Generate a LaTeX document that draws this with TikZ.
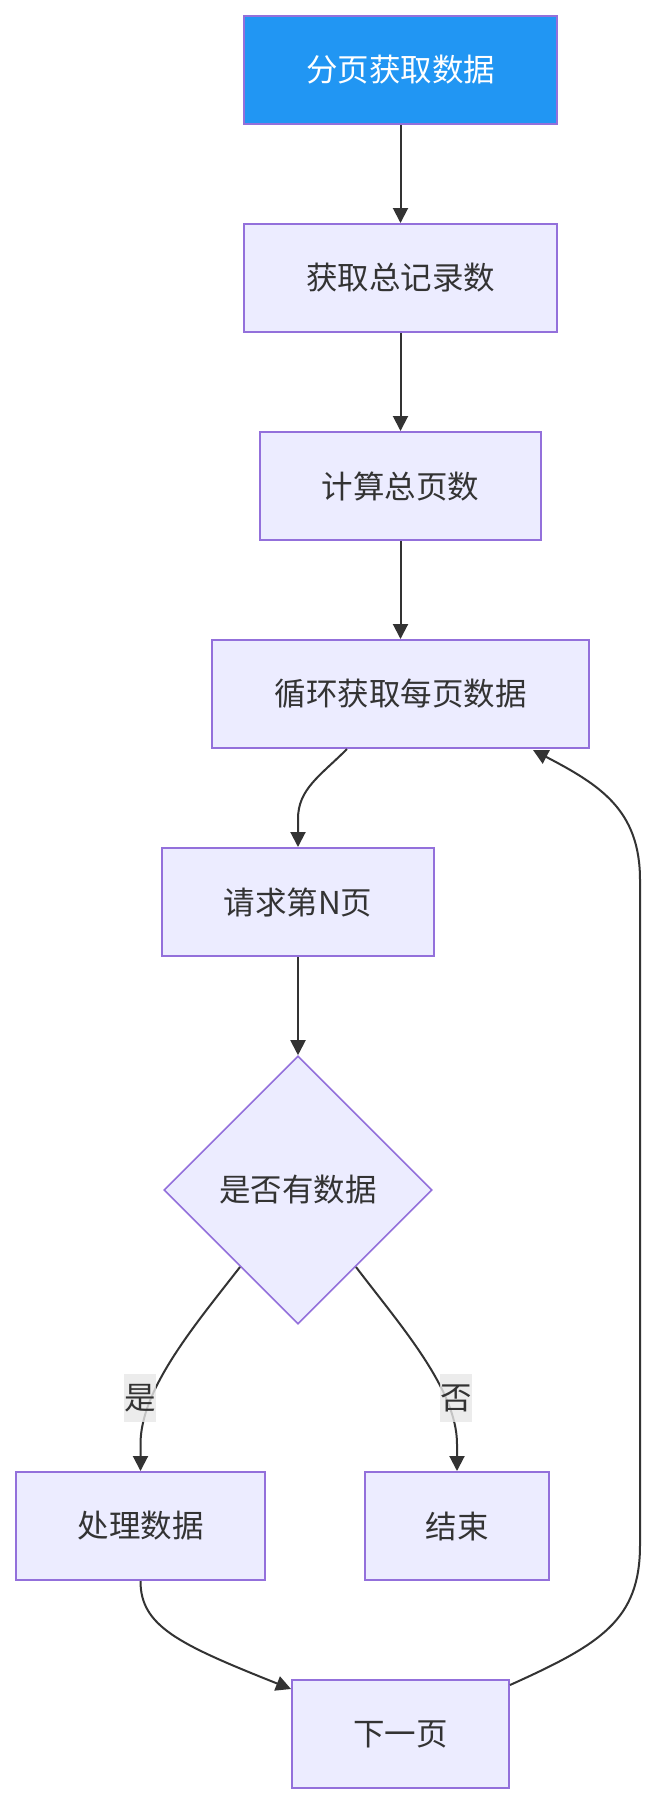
\documentclass[tikz,border=0pt]{standalone}
\usepackage{fontspec}
\setmainfont{Noto Sans CJK SC}
\usetikzlibrary{shapes.geometric,arrows.meta,calc}
\definecolor{nodefill}{HTML}{ECECFF}
\definecolor{nodeborder}{HTML}{9370DB}
\definecolor{edgecol}{HTML}{333333}
\definecolor{txtcol}{HTML}{333333}
\definecolor{startblue}{HTML}{2196F3}
\definecolor{labelbg}{HTML}{E8E8E8}
\begin{document}
\begin{tikzpicture}[x=1pt,y=-1pt,
  box/.style={draw=nodeborder, fill=nodefill, line width=2pt, minimum height=108pt, inner sep=0pt, text=txtcol, font=\fontsize{31.5pt}{38pt}\selectfont},
  startbox/.style={box, fill=startblue, text=white},
  decision/.style={box, diamond, minimum width=268pt, minimum height=268pt, line width=1.6pt},
  flow/.style={draw=edgecol, line width=2pt, -{Triangle[length=15pt,width=15pt]}},
  elabel/.style={fill=labelbg, fill opacity=0.8, text opacity=1, minimum width=32pt, minimum height=48pt, inner sep=0pt, text=txtcol, font=\fontsize{31.5pt}{38pt}\selectfont}
]
\useasboundingbox (0,0) rectangle (655,1804);
\fill[white] (0,0) rectangle (655,1804);

\node[startbox, minimum width=313pt] (n1) at (400.5,70) {分页获取数据};
\node[box, minimum width=313pt] (n2) at (400.5,278) {获取总记录数};
\node[box, minimum width=281pt] (n3) at (400.5,486) {计算总页数};
\node[box, minimum width=377pt] (n4) at (400.5,694) {循环获取每页数据};
\node[box, minimum width=272pt] (n5) at (298,902) {请求第N页};
\node[decision] (d) at (298,1190) {是否有数据};
\node[box, minimum width=249pt] (n7) at (140.5,1526) {处理数据};
\node[box, minimum width=184pt] (n8) at (457,1526) {结束};
\node[box, minimum width=217pt] (n9) at (400.5,1734) {下一页};

\coordinate (a1) at ($(n4.south)+(-53.5,0)$);
\coordinate (a2) at ($(n5.north)+(0,-28)$);
\coordinate (dl) at ($(d.center)+(-58,77)$);
\coordinate (dr) at ($(d.center)+(58,77)$);
\coordinate (b1) at ($(n7.north)+(0,-27)$);
\coordinate (b2) at ($(n8.north)+(0,-27)$);
\coordinate (c1) at ($(n9.north west)+(0,10)$);
\coordinate (l0) at ($(n9.north east)+(0,6)$);
\coordinate (lBot) at (640,1545);
\coordinate (lTop) at (640,880);
\coordinate (l1) at ($(n4.south)+(132.5,1)$);

\draw[flow] (n1) -- (n2);
\draw[flow] (n2) -- (n3);
\draw[flow] (n3) -- (n4);
\draw[flow] (a1) .. controls +(-27,27) and +(0,-30) .. (a2) -- (n5.north);
\draw[flow] (n5) -- (d.north);
\draw[flow] (dl) .. controls +(-45,58) and +(0,-55) .. (b1) -- (n7.north);
\draw[flow] (dr) .. controls +(44,58) and +(0,-55) .. (b2) -- (n8.north);
\draw[flow] (n7.south) .. controls +(0,45) and +(-113,-45) .. (c1);
\draw[flow] (l0) .. controls +(91,-41) and +(0,75) .. (lBot) -- (lTop) .. controls +(0,-70) and +(67,35) .. (l1);

\node[elabel] (ly) at (140,1398) {是};
\node[elabel] (ln) at (456,1398) {否};
\end{tikzpicture}
\end{document}
